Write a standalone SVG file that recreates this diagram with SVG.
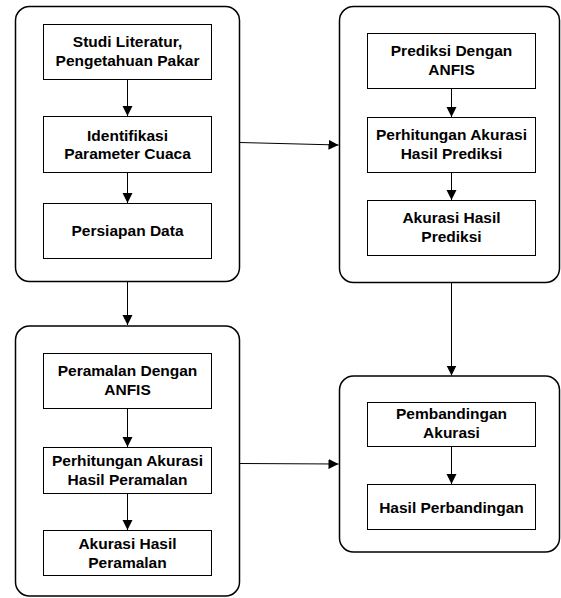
<svg xmlns="http://www.w3.org/2000/svg" width="561" height="598" viewBox="0 0 561 598">
<style>
.outer{fill:#fff;stroke:#000;stroke-width:1.5}
.inner{fill:#fff;stroke:#000;stroke-width:1}
.lbl{font-family:"Liberation Sans",Arial,sans-serif;font-weight:bold;font-size:15.5px;text-anchor:middle;fill:#000}
.con{stroke:#000;stroke-width:1;fill:none}
</style>
<defs>
<marker id="ah" markerUnits="userSpaceOnUse" markerWidth="12" markerHeight="12" viewBox="0 0 12 12" refX="10" refY="5" orient="auto">
<path d="M0,0 L10,5 L0,10 Z" fill="#000"/>
</marker>
</defs>
<rect width="561" height="598" fill="#fff"/>
<g id="group1">
<rect class="outer" x="15.5" y="6.5" width="224" height="275" rx="14"/>
</g>
<g id="group2">
<rect class="outer" x="339.5" y="6.5" width="220" height="276" rx="14"/>
</g>
<g id="group3">
<rect class="outer" x="15.5" y="326" width="224" height="270" rx="14"/>
</g>
<g id="group4">
<rect class="outer" x="339.5" y="376" width="220" height="176" rx="14"/>
</g>
<g id="n1"><rect class="inner" x="43.5" y="24.5" width="168" height="55"/>
<text class="lbl" x="127.5" y="47">Studi Literatur,</text><text class="lbl" x="127.5" y="65.5">Pengetahuan Pakar</text></g>
<g id="n2"><rect class="inner" x="43.5" y="116.5" width="168" height="56"/>
<text class="lbl" x="127.5" y="140.5">Identifikasi</text><text class="lbl" x="127.5" y="159">Parameter Cuaca</text></g>
<g id="n3"><rect class="inner" x="43.5" y="203.5" width="168" height="55"/>
<text class="lbl" x="127.5" y="235.5">Persiapan Data</text></g>
<g id="n4"><rect class="inner" x="367.5" y="33.5" width="168" height="55"/>
<text class="lbl" x="451.5" y="56">Prediksi Dengan</text><text class="lbl" x="451.5" y="74.5">ANFIS</text></g>
<g id="n5"><rect class="inner" x="367.5" y="117.5" width="168" height="55"/>
<text class="lbl" x="451.5" y="140">Perhitungan Akurasi</text><text class="lbl" x="451.5" y="158.5">Hasil Prediksi</text></g>
<g id="n6"><rect class="inner" x="367.5" y="200.5" width="168" height="55"/>
<text class="lbl" x="451.5" y="223">Akurasi Hasil</text><text class="lbl" x="451.5" y="241.5">Prediksi</text></g>
<g id="n7"><rect class="inner" x="43.5" y="353.5" width="168" height="55"/>
<text class="lbl" x="127.5" y="376">Peramalan Dengan</text><text class="lbl" x="127.5" y="394.5">ANFIS</text></g>
<g id="n8"><rect class="inner" x="43.5" y="447.5" width="168" height="46"/>
<text class="lbl" x="127.5" y="466">Perhitungan Akurasi</text><text class="lbl" x="127.5" y="484.5">Hasil Peramalan</text></g>
<g id="n9"><rect class="inner" x="43.5" y="530.5" width="168" height="45"/>
<text class="lbl" x="127.5" y="549">Akurasi Hasil</text><text class="lbl" x="127.5" y="567.5">Peramalan</text></g>
<g id="n10"><rect class="inner" x="367.5" y="402.5" width="168" height="44"/>
<text class="lbl" x="451.5" y="419">Pembandingan</text><text class="lbl" x="451.5" y="437.5">Akurasi</text></g>
<g id="n11"><rect class="inner" x="367.5" y="484.5" width="168" height="45"/>
<text class="lbl" x="451.5" y="512.5">Hasil Perbandingan</text></g>
<g id="connectors">
<line class="con" x1="127.5" y1="79.5" x2="127.5" y2="116" marker-end="url(#ah)"/>
<line class="con" x1="127.5" y1="172.5" x2="127.5" y2="203" marker-end="url(#ah)"/>
<line class="con" x1="127.5" y1="282" x2="127.5" y2="325" marker-end="url(#ah)"/>
<line class="con" x1="239.5" y1="142.5" x2="338.5" y2="145" marker-end="url(#ah)"/>
<line class="con" x1="451.5" y1="88.5" x2="451.5" y2="117" marker-end="url(#ah)"/>
<line class="con" x1="451.5" y1="172.5" x2="451.5" y2="200" marker-end="url(#ah)"/>
<line class="con" x1="451.5" y1="283" x2="451.5" y2="375.5" marker-end="url(#ah)"/>
<line class="con" x1="127.5" y1="408.5" x2="127.5" y2="447" marker-end="url(#ah)"/>
<line class="con" x1="127.5" y1="493.5" x2="127.5" y2="530" marker-end="url(#ah)"/>
<line class="con" x1="239.5" y1="463.5" x2="338.5" y2="464" marker-end="url(#ah)"/>
<line class="con" x1="451.5" y1="446.5" x2="451.5" y2="484" marker-end="url(#ah)"/>
</g>
</svg>
